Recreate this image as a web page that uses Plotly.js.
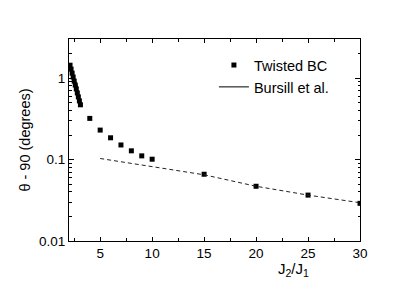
<!DOCTYPE html>
<html>
<head>
<meta charset="utf-8">
<script src="https://cdn.plot.ly/plotly-3.0.1.min.js"></script>
<style>html,body{margin:0;padding:0;background:#fff;}#chart{width:415px;height:290px;}</style>
</head>
<body>
<div id="chart"></div>
<script>
// Twisted BC data
const twistedX = [2.1, 2.2, 2.3, 2.4, 2.5, 2.6, 2.7, 2.8, 2.9, 3.0, 3.1, 4, 5, 6, 7, 8, 9, 10, 15, 20, 25, 30];
const twistedY = [1.44, 1.29, 1.15, 1.03, 0.918, 0.822, 0.736, 0.657, 0.588, 0.525, 0.47, 0.32, 0.23, 0.185, 0.151, 0.128, 0.111, 0.101, 0.066, 0.047, 0.0366, 0.029];
// Bursill et al.
const bursillX = [2.0, 2.4, 2.85];
const bursillY = [1.46, 1.11, 0.77];
// Dashed fit line
const fitX = [5, 10, 15, 20, 25, 30];
const fitY = [0.103, 0.082, 0.065, 0.047, 0.0366, 0.0295];
// Tick labels
const xTicks = [5, 10, 15, 20, 25, 30];
const yTicks = [0.01, 0.1, 1];
const yTickText = ['0.01', '0.1', '1'];

const yMinor = [];
[0.01, 0.1, 1].forEach(d => { for (let k = 2; k <= 9; k++) yMinor.push(d * k); });

const traces = [
  {x: twistedX, y: twistedY, mode: 'markers', name: 'Twisted BC',
   marker: {symbol: 'square', size: 5, color: '#000'}},
  {x: bursillX, y: bursillY, mode: 'lines', name: 'Bursill et al.',
   line: {color: '#000', width: 1}},
  {x: fitX, y: fitY, mode: 'lines', showlegend: false,
   line: {color: '#222', width: 1, dash: '4px,3px'}}
];

const layout = {
  width: 415, height: 290,
  margin: {l: 69, r: 55, t: 39, b: 49},
  paper_bgcolor: '#fff', plot_bgcolor: '#fff',
  font: {family: 'Liberation Sans, Arial, sans-serif', size: 13.5, color: '#000'},
  showlegend: true,
  legend: {x: 0.498, y: 0.95, xanchor: 'left', yanchor: 'top', bgcolor: 'rgba(0,0,0,0)',
           font: {size: 14.5}, tracegroupgap: 0},
  xaxis: {range: [2, 30], tickvals: xTicks, ticks: 'inside', ticklen: 4, tickcolor: '#000',
          showline: true, linecolor: '#000', linewidth: 1, mirror: 'ticks', showgrid: false,
          zeroline: false, tickfont: {size: 13.5},
          minor: {tickvals: [2.5, 7.5, 12.5, 17.5, 22.5, 27.5], ticks: 'inside', ticklen: 3, tickcolor: '#000', showgrid: false}},
  yaxis: {type: 'log', range: [-2, 0.48], tickvals: yTicks, ticktext: yTickText, ticks: 'inside', ticklen: 5,
          tickcolor: '#000', showline: true, linecolor: '#000', linewidth: 1, mirror: 'ticks',
          showgrid: false, zeroline: false, tickfont: {size: 13.5},
          title: {text: 'θ - 90 (degrees)', font: {size: 14.5}, standoff: 4},
          minor: {tickvals: yMinor, ticks: 'inside', ticklen: 2.5, tickcolor: '#000', showgrid: false}},
  annotations: [{x: 23.6, y: 0, xref: 'x', yref: 'paper', yshift: -17, yanchor: 'top',
                 text: 'J<sub>2</sub>/J<sub>1</sub>', showarrow: false, font: {size: 15}}]
};

Plotly.newPlot('chart', traces, layout, {displayModeBar: false, staticPlot: true});
</script>
</body>
</html>
